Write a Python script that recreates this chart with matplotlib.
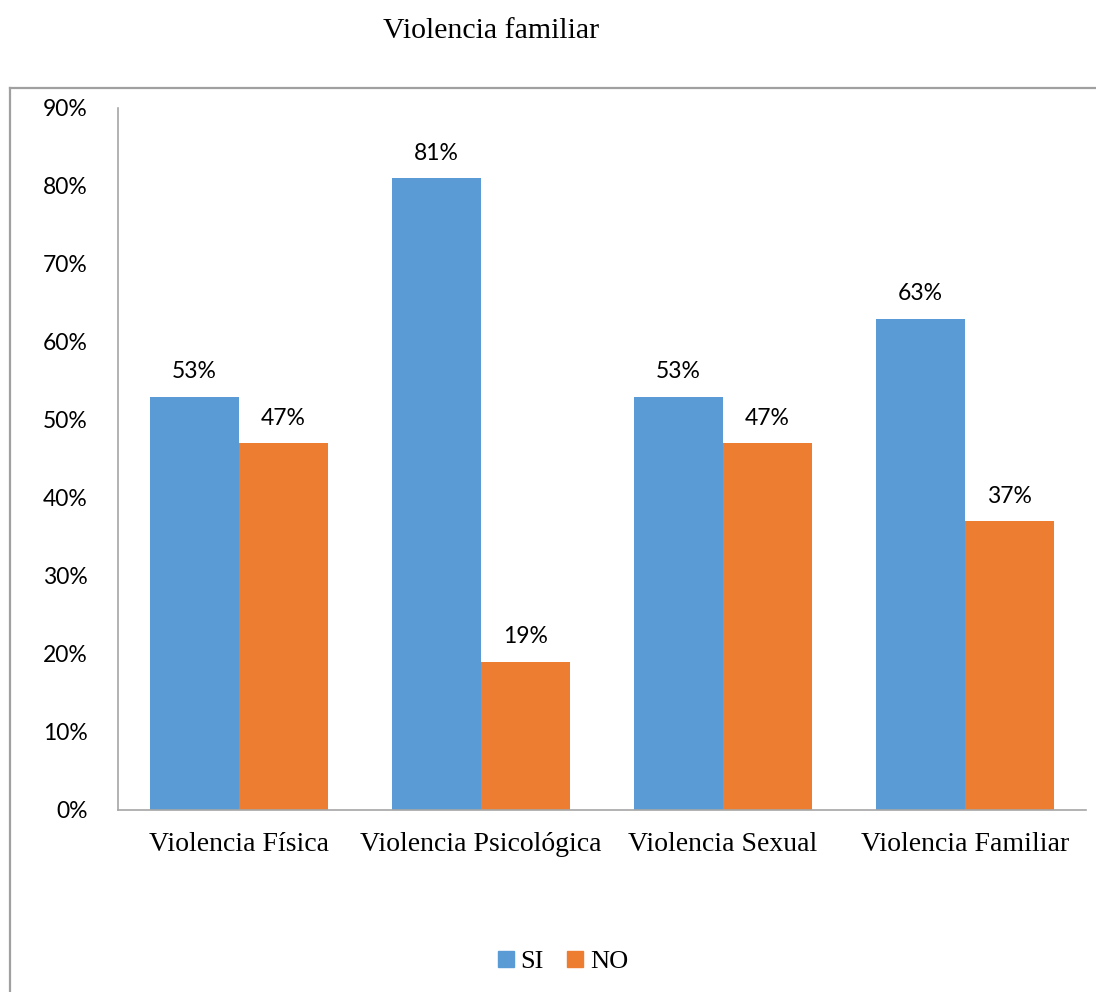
import matplotlib
matplotlib.use("Agg")
import matplotlib.pyplot as plt
import numpy as np
from matplotlib.lines import Line2D
from matplotlib.patches import Patch

categories = ["Violencia Física", "Violencia Psicológica", "Violencia Sexual", "Violencia Familiar"]
si_values = [53, 81, 53, 63]
no_values = [47, 19, 47, 37]
series_names = ["SI", "NO"]
title = "Violencia familiar"
yticks = [0, 10, 20, 30, 40, 50, 60, 70, 80, 90]

BLUE = "#5B9BD5"
ORANGE = "#ED7D31"
SERIF = ["Liberation Serif", "DejaVu Serif"]
SANS = ["Lato", "DejaVu Sans"]

W, H = 1096, 992
fig = plt.figure(figsize=(W / 100, H / 100), dpi=100)
ax = fig.add_axes([118 / W, 1 - 810 / H, (1086 - 118) / W, (810 - 108) / H])

x = np.arange(len(categories))
bw = 0.367
ax.bar(x - bw / 2, si_values, bw, color=BLUE, label=series_names[0])
ax.bar(x + bw / 2, no_values, bw, color=ORANGE, label=series_names[1])

for xi, v in zip(x, si_values):
    ax.annotate(f"{v}%", (xi - bw / 2, v), xytext=(0, 10.5), textcoords="offset points",
                ha="center", va="bottom", fontsize=16.5, family=SANS, color="#000000")
for xi, v in zip(x, no_values):
    ax.annotate(f"{v}%", (xi + bw / 2, v), xytext=(0, 10.5), textcoords="offset points",
                ha="center", va="bottom", fontsize=16.5, family=SANS, color="#000000")

ax.set_xlim(-0.5, len(categories) - 0.5)
ax.set_ylim(0, 90)
ax.set_yticks(yticks)
ax.set_yticklabels([f"{t}%" for t in yticks], fontsize=16.5, family=SANS)
ax.set_xticks(x)
ax.set_xticklabels(categories, fontsize=20, family=SERIF)
ax.tick_params(axis="both", length=0)
ax.tick_params(axis="y", pad=22)
ax.tick_params(axis="x", pad=16)
for s in ["top", "right"]:
    ax.spines[s].set_visible(False)
for s in ["left", "bottom"]:
    ax.spines[s].set_color("#A6A6A6")
    ax.spines[s].set_linewidth(1.2)

# outer chart frame (cropped chart area: top and left edges visible)
fig.add_artist(Line2D([10 / W, 1.0], [1 - 88 / H, 1 - 88 / H], transform=fig.transFigure,
                      color="#A0A0A0", lw=1.6))
fig.add_artist(Line2D([10 / W, 10 / W], [1 - 88 / H, 0.0], transform=fig.transFigure,
                      color="#A0A0A0", lw=1.6))

fig.text(491 / W, 1 - 31 / H, title, ha="center", va="center", fontsize=21.5, family=SERIF)

handles = [Patch(color=BLUE, label=series_names[0]), Patch(color=ORANGE, label=series_names[1])]
fig.legend(handles=handles, loc="center", bbox_to_anchor=(563 / W, 1 - 962 / H), ncol=2,
           frameon=False, prop={"family": SERIF, "size": 19}, handlelength=0.6, handleheight=0.6,
           handletextpad=0.25, columnspacing=0.9)

fig.savefig("out.png", dpi=100)
